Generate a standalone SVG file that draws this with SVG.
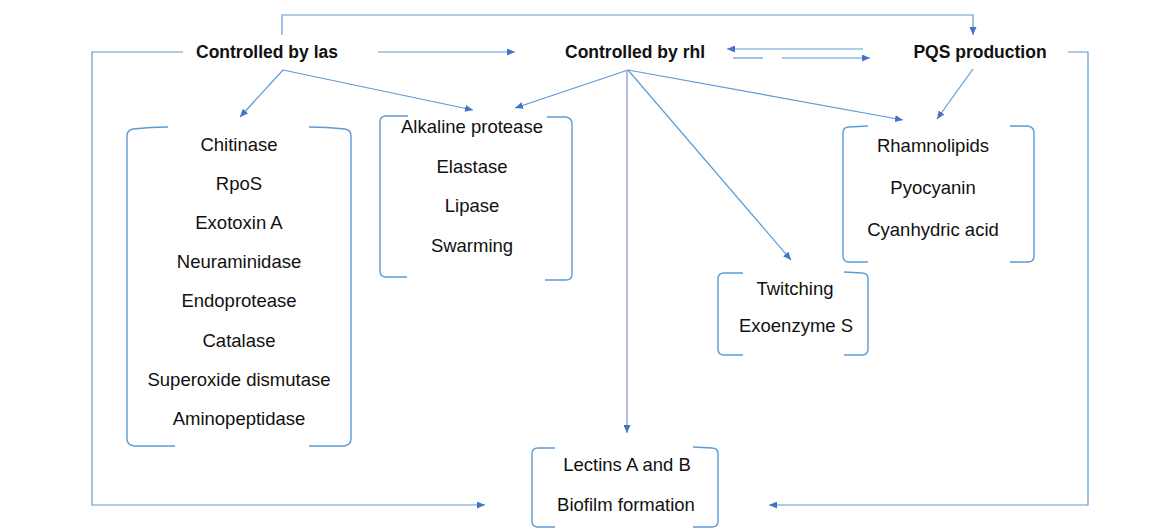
<svg xmlns="http://www.w3.org/2000/svg" width="1164" height="529" viewBox="0 0 1164 529">
<style>
.t{font-family:"Liberation Sans",Arial,sans-serif;font-size:18.5px;fill:#111;text-anchor:middle}
.h{font-family:"Liberation Sans",Arial,sans-serif;font-size:17.5px;font-weight:bold;fill:#111;text-anchor:middle}
.c{fill:none;stroke:#5b9bd5;stroke-width:1.2}
.cv{fill:none;stroke:#8a8ad0;stroke-width:1.2}
.b{fill:none;stroke:#5b9bd5;stroke-width:1.4}
</style>
<defs>
<marker id="ah" viewBox="0 0 8 7" refX="8" refY="3.5" markerWidth="8" markerHeight="7" markerUnits="userSpaceOnUse" orient="auto">
<path d="M0,0 L8,3.5 L0,7 z" fill="#4472c4"/>
</marker>
</defs>
<rect width="1164" height="529" fill="#fff"/>
<g id="connectors">
<polyline class="c" points="282,35 282,15 973,15 973,35" marker-end="url(#ah)"/>
<polyline class="c" points="183,52 92,52 92,505 485,505" marker-end="url(#ah)"/>
<line class="c" x1="378" y1="52" x2="515" y2="52" marker-end="url(#ah)"/>
<line class="c" x1="863" y1="49" x2="727" y2="49" marker-end="url(#ah)"/>
<line class="c" x1="733" y1="58" x2="763" y2="58"/>
<line class="c" x1="782" y1="58" x2="870" y2="58" marker-end="url(#ah)"/>
<polyline class="c" points="1068,52 1088,52 1088,505 769,505" marker-end="url(#ah)"/>
<line class="c" x1="283" y1="70" x2="240" y2="117" marker-end="url(#ah)"/>
<line class="c" x1="283" y1="70" x2="473" y2="110" marker-end="url(#ah)"/>
<line class="c" x1="628" y1="70" x2="515" y2="108" marker-end="url(#ah)"/>
<line class="cv" x1="627" y1="70" x2="627" y2="433" marker-end="url(#ah)"/>
<line class="c" x1="628" y1="70" x2="791" y2="260" marker-end="url(#ah)"/>
<line class="c" x1="628" y1="70" x2="903" y2="120" marker-end="url(#ah)"/>
<line class="c" x1="973" y1="69" x2="937" y2="119" marker-end="url(#ah)"/>
</g>
<g id="las"><text class="h" x="267" y="58">Controlled by las</text></g>
<g id="rhl"><text class="h" x="635" y="58">Controlled by rhl</text></g>
<g id="pqs"><text class="h" x="980" y="58">PQS production</text></g>
<g id="las-list">
<path class="b" d="M168,127 Q150,127 133,129 Q127,130 127,136 L127,439 Q127,445 134,446 L175,446"/>
<path class="b" d="M309,127 Q327,127 345,129 Q351,130 351,136 L351,439 Q351,445 344,446 L309,446"/>
<text class="t" x="239" y="151">Chitinase</text>
<text class="t" x="239" y="190">RpoS</text>
<text class="t" x="239" y="229">Exotoxin A</text>
<text class="t" x="239" y="268">Neuraminidase</text>
<text class="t" x="239" y="307">Endoprotease</text>
<text class="t" x="239" y="347">Catalase</text>
<text class="t" x="239" y="386">Superoxide dismutase</text>
<text class="t" x="239" y="425">Aminopeptidase</text>
</g>
<g id="shared-list">
<path class="b" d="M408,116 L386,116 Q380,116 380,122 L380,271 Q380,277 386,277 L407,277"/>
<path class="b" d="M547,117 L566,117 Q572,118 572,124 L572,274 Q572,280 566,280 L545,280"/>
<text class="t" x="472" y="133">Alkaline protease</text>
<text class="t" x="472" y="173">Elastase</text>
<text class="t" x="472" y="212">Lipase</text>
<text class="t" x="472" y="252">Swarming</text>
</g>
<g id="pqs-list">
<path class="b" d="M868,126 L849,127 Q843,127 843,133 L843,256 Q843,262 849,262 L868,262"/>
<path class="b" d="M1010,126 L1028,126 Q1034,127 1034,133 L1034,256 Q1034,262 1028,262 L1010,262"/>
<text class="t" x="933" y="152">Rhamnolipids</text>
<text class="t" x="933" y="194">Pyocyanin</text>
<text class="t" x="933" y="236">Cyanhydric acid</text>
</g>
<g id="rhl-list">
<path class="b" d="M743,273 L724,273 Q718,273 718,279 L718,349 Q718,355 724,355 L743,355"/>
<path class="b" d="M844,272 L862,273 Q868,273 868,279 L868,349 Q868,355 862,355 L844,355"/>
<text class="t" x="795" y="295">Twitching</text>
<text class="t" x="796" y="332">Exoenzyme S</text>
</g>
<g id="lectins-list">
<path class="b" d="M555,448 L538,448 Q532,448 532,454 L532,521 Q532,527 538,527 L555,527"/>
<path class="b" d="M693,447 L712,448 Q718,448 718,454 L718,521 Q718,527 712,527 L693,527"/>
<text class="t" x="627" y="471">Lectins A and B</text>
<text class="t" x="626" y="511">Biofilm formation</text>
</g>
</svg>
